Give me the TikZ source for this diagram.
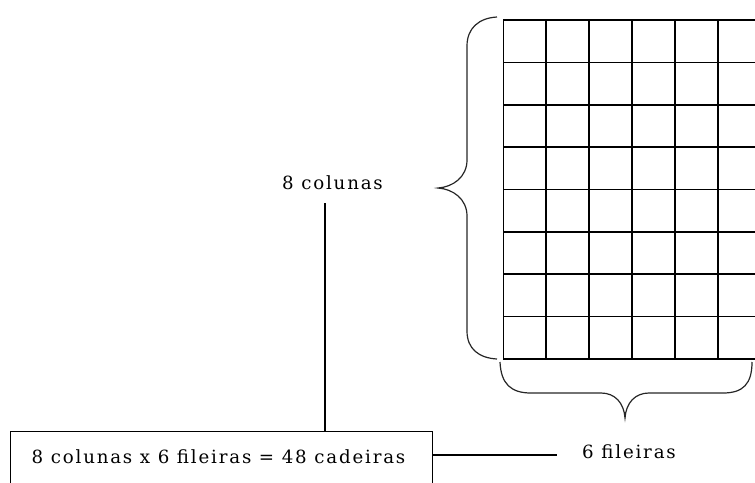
\documentclass[tikz,border=0pt]{standalone}
\usepackage{fontspec}
\setmainfont{DejaVu Serif}[LetterSpace=10]
\begin{document}
\begin{tikzpicture}[x=1pt,y=-1pt,
  gridline/.style={line width=1.6pt,black},
  bracepath/.style={line width=1.2pt,black!85},
  conn/.style={line width=1.1pt,black},
  lbl/.style={inner sep=0pt,anchor=base,font=\fontsize{18.2}{22}\selectfont}]
\useasboundingbox (0,0) rectangle (755,482);
% grid
\foreach \i in {0,...,5} \draw[gridline] (503.3+42.9*\i,20) -- (503.3+42.9*\i,359);
\foreach \j in {0,...,8} \draw[gridline] (503.3,20+42.375*\j) -- (760,20+42.375*\j);
% left brace
\draw[bracepath] (497,17) .. controls (479,18) and (467,28) .. (467,46) -- (467,160)
  .. controls (467,177) and (453,187) .. (438,188)
  .. controls (453,189) and (467,199) .. (467,216) -- (467,331)
  .. controls (467,349) and (479,358) .. (497,359);
% bottom brace
\draw[bracepath] (500,362) .. controls (501,384) and (511,393) .. (531,393) -- (601,393)
  .. controls (615,393) and (624,403) .. (625,418)
  .. controls (626,403) and (635,393) .. (649,393) -- (723,393)
  .. controls (743,393) and (752,384) .. (752,362);
% labels
\node[lbl] (lc) at (332.5,189) {8 colunas};
\node[lbl] (lf) at (629,458) {6 fileiras};
\node[draw,line width=1.1pt,inner sep=0pt,minimum width=422pt,minimum height=70pt,anchor=north west] (box) at (10,431) {};
\node[lbl] (boxt) at (218.5,463) {8 colunas x 6 fileiras = 48 cadeiras};
\coordinate (v) at (325,203);
\coordinate (h) at (557,455);
\draw[conn] (v) -- (box.north -| v);
\draw[conn] (box.east |- h) -- (h);
\end{tikzpicture}
\end{document}
